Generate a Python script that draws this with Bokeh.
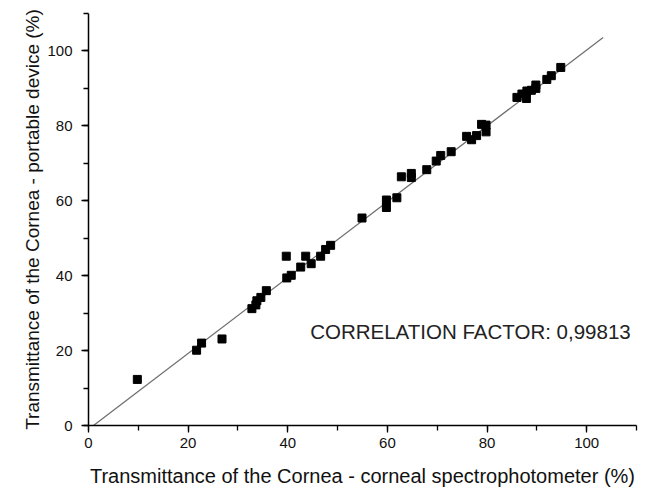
from bokeh.plotting import figure
from bokeh.models import Range1d, SingleIntervalTicker, Label, ColumnDataSource
from bokeh.embed import file_html
from bokeh.resources import INLINE

# measured transmittance values (%)
spectro_x = [9.8, 21.7, 22.7, 26.8, 32.8, 33.6, 33.8, 34.6, 35.7, 39.7, 39.8, 40.7,
             42.6, 43.6, 44.7, 46.6, 47.6, 48.6, 54.9, 59.8, 59.8, 61.9, 62.8, 64.8,
             64.8, 67.9, 69.8, 70.7, 72.8, 75.9, 76.9, 77.9, 78.9, 79.8, 79.8, 86.0,
             87.0, 87.9, 88.0, 88.9, 89.8, 89.8, 92.0, 92.9, 94.8]
portable_y = [12.3, 20.1, 22.0, 23.1, 31.2, 32.2, 33.3, 34.2, 36.0, 45.2, 39.4, 40.1,
              42.3, 45.2, 43.2, 45.2, 47.0, 48.1, 55.4, 60.2, 58.2, 60.8, 66.4, 66.2,
              67.3, 68.3, 70.6, 72.1, 73.1, 77.2, 76.3, 77.4, 80.4, 80.2, 78.4, 87.6,
              88.5, 87.3, 89.3, 89.5, 90.9, 90.0, 92.4, 93.4, 95.6]

# linear fit line end points
fit_x = [1.0, 103.3]
fit_y = [0.0, 103.6]

correlation_text = "CORRELATION FACTOR: 0,99813"
x_title = "Transmittance of the Cornea - corneal spectrophotometer (%)"
y_title = "Transmittance of the Cornea - portable device (%)"

FONT = "Liberation Sans"

p = figure(width=646, height=489, output_backend="svg", toolbar_location=None,
           x_range=Range1d(0, 110), y_range=Range1d(0, 110),
           x_axis_label=x_title, y_axis_label=y_title,
           min_border_left=88, min_border_right=10, min_border_top=13, min_border_bottom=64)
p.outline_line_color = None
p.xgrid.visible = False
p.ygrid.visible = False
p.background_fill_color = "white"
p.border_fill_color = "white"

for ax in (p.xaxis[0], p.yaxis[0]):
    ax.ticker = SingleIntervalTicker(interval=20, num_minor_ticks=2)
    ax.axis_line_color = "black"
    ax.axis_line_width = 1.5
    ax.major_tick_line_color = "black"
    ax.minor_tick_line_color = "black"
    ax.major_tick_line_width = 1.3
    ax.minor_tick_line_width = 1.3
    ax.major_tick_in = 0
    ax.minor_tick_in = 0
    ax.major_tick_out = 7
    ax.minor_tick_out = 5
    ax.major_label_text_font = FONT
    ax.major_label_text_font_size = "15px"
    ax.major_label_text_color = "#111111"
    ax.axis_label_text_font = FONT
    ax.axis_label_text_font_style = "normal"
    ax.axis_label_text_color = "#111111"

p.xaxis[0].axis_label_text_font_size = "20px"
p.yaxis[0].axis_label_text_font_size = "19px"
p.xaxis[0].major_label_standoff = 5
p.xaxis[0].axis_label_standoff = 14
p.yaxis[0].major_label_standoff = 9
p.yaxis[0].axis_label_standoff = 1

p.line(fit_x, fit_y, line_color="#6e6e6e", line_width=1.2)

src = ColumnDataSource(dict(x=spectro_x, y=portable_y))
p.scatter("x", "y", source=src, marker="square", size=8,
          fill_color="black", line_color="black")

p.add_layout(Label(x=44.5, y=25.2, text=correlation_text, text_font=FONT,
                   text_font_size="20.5px", text_baseline="middle", text_align="left",
                   text_color="#222222"))

open("out.html", "w").write(file_html(p, INLINE))
